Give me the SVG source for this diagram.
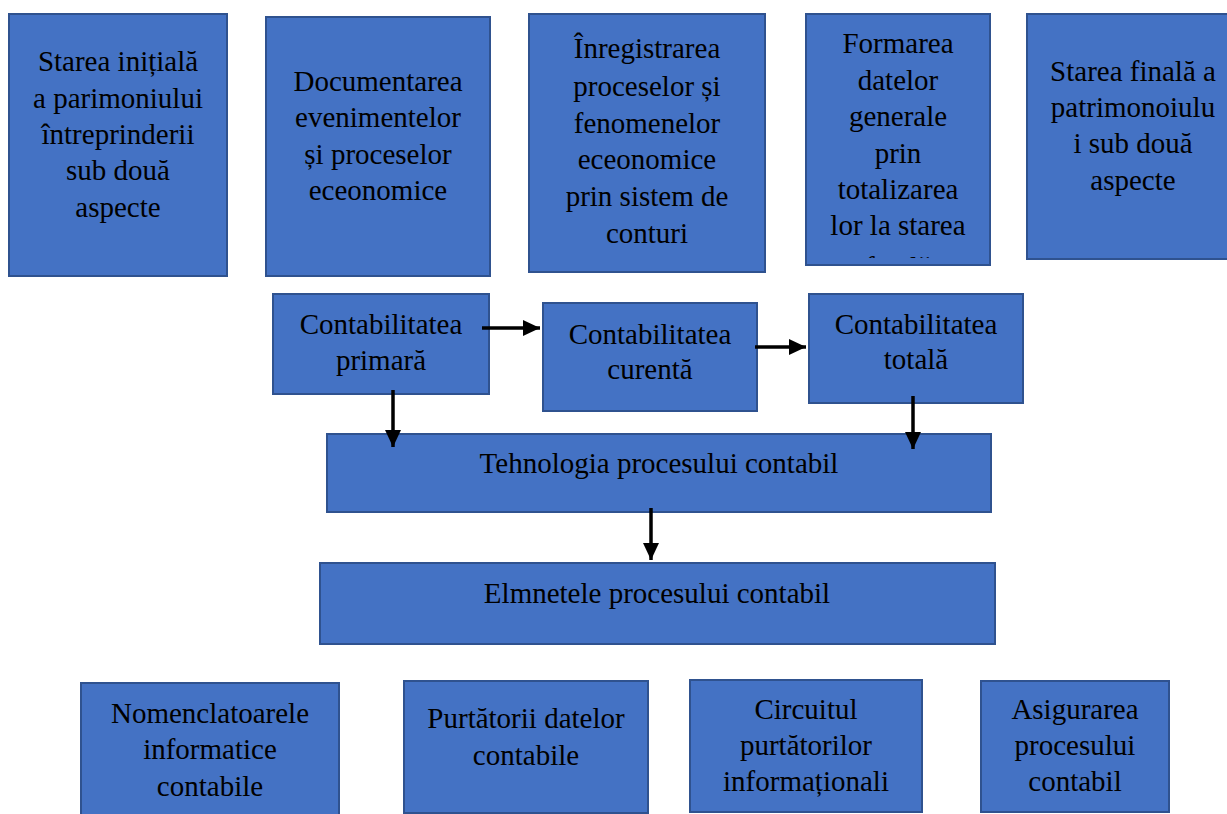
<svg xmlns="http://www.w3.org/2000/svg" width="1227" height="814" viewBox="0 0 1227 814">
<style>
.box{fill:#4472C4;stroke:#2F528F;stroke-width:2}
.t{font-family:"Liberation Serif","Times New Roman",serif;font-size:29px;fill:#000;text-anchor:middle}
.c{stroke:#000;stroke-width:3.5;fill:none}
</style>
<defs>
<marker id="ah" markerUnits="userSpaceOnUse" markerWidth="17" markerHeight="16" refX="17" refY="8" orient="auto">
<path d="M0,0 L17,8 L0,16 z" fill="#000"/>
</marker>
<clipPath id="clip4"><rect x="806" y="14" width="184" height="244"/></clipPath>
</defs>
<rect width="1227" height="814" fill="#fff"/>
<g id="n1"><rect class="box" x="9" y="14" width="218" height="262"/>
<text class="t"><tspan x="118" y="71">Starea inițială</tspan><tspan x="118" y="108">a parimoniului</tspan><tspan x="118" y="144">întreprinderii</tspan><tspan x="118" y="180">sub două</tspan><tspan x="118" y="217">aspecte</tspan></text></g>
<g id="n2"><rect class="box" x="266" y="17" width="224" height="259"/>
<text class="t"><tspan x="378" y="91">Documentarea</tspan><tspan x="378" y="127">evenimentelor</tspan><tspan x="378" y="164">și proceselor</tspan><tspan x="378" y="200">eceonomice</tspan></text></g>
<g id="n3"><rect class="box" x="529" y="14" width="236" height="258"/>
<text class="t"><tspan x="647" y="58">Înregistrarea</tspan><tspan x="647" y="96">proceselor și</tspan><tspan x="647" y="133">fenomenelor</tspan><tspan x="647" y="169">eceonomice</tspan><tspan x="647" y="206">prin sistem de</tspan><tspan x="647" y="243">conturi</tspan></text></g>
<g id="n4"><rect class="box" x="806" y="14" width="184" height="251"/>
<text class="t" clip-path="url(#clip4)"><tspan x="898" y="53">Formarea</tspan><tspan x="898" y="90">datelor</tspan><tspan x="898" y="126">generale</tspan><tspan x="898" y="163">prin</tspan><tspan x="898" y="199">totalizarea</tspan><tspan x="898" y="235">lor la starea</tspan><tspan x="898" y="277">finală</tspan></text></g>
<g id="n5"><rect class="box" x="1027" y="14" width="214" height="245"/>
<text class="t"><tspan x="1133" y="81">Starea finală a</tspan><tspan x="1133" y="117">patrimonoiulu</tspan><tspan x="1133" y="153">i sub două</tspan><tspan x="1133" y="190">aspecte</tspan></text></g>
<g id="n6"><rect class="box" x="273" y="294" width="216" height="100"/>
<text class="t"><tspan x="381" y="334">Contabilitatea</tspan><tspan x="381" y="370">primară</tspan></text></g>
<g id="n7"><rect class="box" x="543" y="303" width="214" height="108"/>
<text class="t"><tspan x="650" y="344">Contabilitatea</tspan><tspan x="650" y="379">curentă</tspan></text></g>
<g id="n8"><rect class="box" x="809" y="294" width="214" height="109"/>
<text class="t"><tspan x="916" y="334">Contabilitatea</tspan><tspan x="916" y="369">totală</tspan></text></g>
<g id="n9"><rect class="box" x="327" y="434" width="664" height="78"/>
<text class="t" x="659" y="473">Tehnologia procesului contabil</text></g>
<g id="n10"><rect class="box" x="320" y="563" width="675" height="81"/>
<text class="t" x="657" y="603">Elmnetele procesului contabil</text></g>
<g id="n11"><rect class="box" x="81" y="683" width="258" height="140"/>
<text class="t"><tspan x="210" y="723">Nomenclatoarele</tspan><tspan x="210" y="759">informatice</tspan><tspan x="210" y="796">contabile</tspan></text></g>
<g id="n12"><rect class="box" x="404" y="681" width="244" height="132"/>
<text class="t"><tspan x="526" y="728">Purtătorii datelor</tspan><tspan x="526" y="765">contabile</tspan></text></g>
<g id="n13"><rect class="box" x="690" y="680" width="232" height="132"/>
<text class="t"><tspan x="806" y="719">Circuitul</tspan><tspan x="806" y="755">purtătorilor</tspan><tspan x="806" y="791">informaționali</tspan></text></g>
<g id="n14"><rect class="box" x="981" y="681" width="188" height="131"/>
<text class="t"><tspan x="1075" y="719">Asigurarea</tspan><tspan x="1075" y="755">procesului</tspan><tspan x="1075" y="791">contabil</tspan></text></g>
<g id="connectors">
<line class="c" x1="482" y1="328" x2="540" y2="328" marker-end="url(#ah)"/>
<line class="c" x1="755" y1="347" x2="806" y2="347" marker-end="url(#ah)"/>
<line class="c" x1="393" y1="390" x2="393" y2="447" marker-end="url(#ah)"/>
<line class="c" x1="913" y1="396" x2="913" y2="449" marker-end="url(#ah)"/>
<line class="c" x1="651" y1="508" x2="651" y2="560" marker-end="url(#ah)"/>
</g>
</svg>
